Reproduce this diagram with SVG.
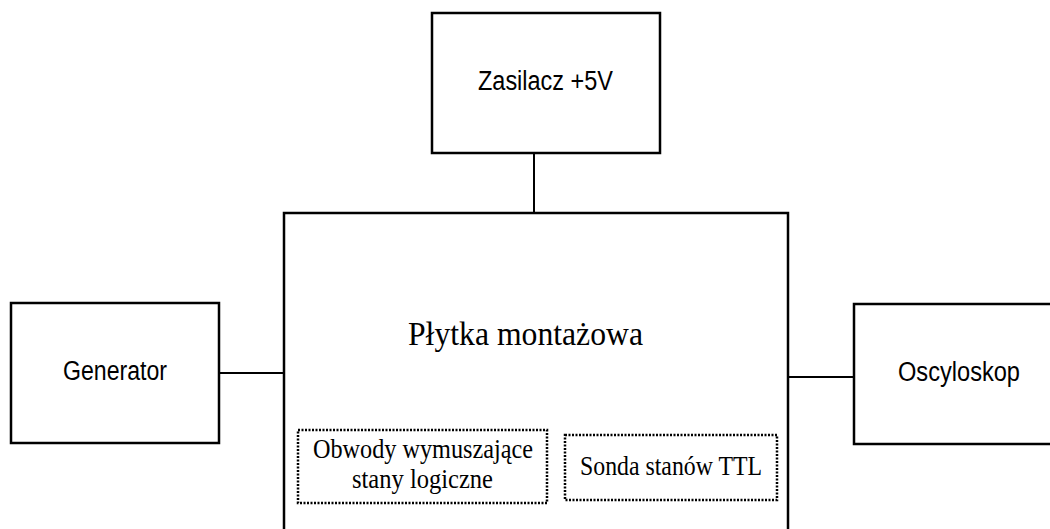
<svg xmlns="http://www.w3.org/2000/svg" width="1050" height="529" viewBox="0 0 1050 529">
<style>
.box{fill:#fff;stroke:#000;stroke-width:2.5}
.dot{fill:none;stroke:#000;stroke-width:2.5;stroke-dasharray:2 1.5}
.conn{stroke:#000;stroke-width:2;fill:none}
.sans{font-family:"Liberation Sans",Arial,sans-serif;font-size:27px;fill:#000}
.serif{font-family:"Liberation Serif","Times New Roman",serif;fill:#000}
</style>
<rect width="1050" height="529" fill="#fff"/>
<g id="connectors">
<line class="conn" x1="534" y1="153" x2="534" y2="213"/>
<line class="conn" x1="219" y1="373" x2="284" y2="373"/>
<line class="conn" x1="788" y1="377" x2="854" y2="377"/>
</g>
<g id="zasilacz">
<rect class="box" x="432" y="13" width="228" height="140"/>
<text class="sans" x="478" y="90" textLength="135" lengthAdjust="spacingAndGlyphs">Zasilacz +5V</text>
</g>
<g id="plytka">
<rect class="box" x="284" y="213" width="504" height="330"/>
<text class="serif" x="408" y="345" font-size="34" textLength="235" lengthAdjust="spacingAndGlyphs">Płytka montażowa</text>
</g>
<g id="obwody">
<rect class="dot" x="298" y="430" width="249" height="73"/>
<text class="serif" x="313" y="458" font-size="27" textLength="220" lengthAdjust="spacingAndGlyphs">Obwody  wymuszające</text>
<text class="serif" x="352" y="488" font-size="27" textLength="141" lengthAdjust="spacingAndGlyphs">stany  logiczne</text>
</g>
<g id="sonda">
<rect class="dot" x="565" y="435" width="212" height="65"/>
<text class="serif" x="580" y="475" font-size="27" textLength="182" lengthAdjust="spacingAndGlyphs">Sonda stanów TTL</text>
</g>
<g id="generator">
<rect class="box" x="11" y="303" width="208" height="140"/>
<text class="sans" x="63" y="380" textLength="104" lengthAdjust="spacingAndGlyphs">Generator</text>
</g>
<g id="oscyloskop">
<rect class="box" x="854" y="304" width="210" height="140"/>
<text class="sans" x="898" y="381" textLength="122" lengthAdjust="spacingAndGlyphs">Oscyloskop</text>
</g>
</svg>
